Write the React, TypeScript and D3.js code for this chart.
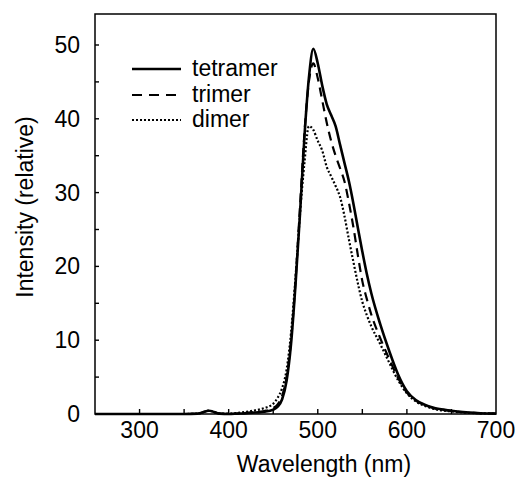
import { useEffect, useRef } from 'react';
import * as d3 from 'd3';

// wavelength grid (nm) and the three emission spectra
const wavelengths = [250, 300, 350, 365, 378, 390, 400, 410, 420, 430, 440, 450, 455, 460, 465, 470, 475, 480, 485, 490, 495, 500, 505, 510, 515, 520, 525, 530, 535, 540, 545, 550, 555, 560, 570, 580, 590, 600, 610, 620, 630, 650, 670, 700];
const tetramer = [0, 0, 0, 0.05, 0.45, 0.05, 0, 0.05, 0.1, 0.2, 0.3, 0.6, 1.0, 2.0, 4.5, 9.5, 17.5, 27, 37.5, 45.5, 49.5, 47.5, 44.5, 42, 40.5, 39, 36.5, 34, 31.5, 28.5, 25.2, 22, 19, 16.4, 12.2, 8.6, 5.4, 3.1, 1.9, 1.25, 0.85, 0.45, 0.2, 0.05];
const trimer = [0, 0, 0, 0.05, 0.45, 0.05, 0, 0.05, 0.15, 0.25, 0.4, 0.8, 1.3, 2.5, 5, 10, 18, 28, 38, 45, 47.5, 45.5, 42.5, 39.5, 37, 35, 33.3, 31.5, 28.6, 25.3, 21.5, 18, 15.6, 13.5, 10.3, 7.5, 4.9, 2.9, 1.8, 1.2, 0.8, 0.4, 0.18, 0.05];
const dimer = [0, 0, 0, 0.05, 0.45, 0.05, 0.05, 0.15, 0.3, 0.5, 0.8, 1.4, 2.2, 3.5, 6, 11, 18.5, 27, 34, 39, 38.5, 37, 35.7, 33.5, 32.2, 30.9, 29.4, 26.8, 23.6, 20.6, 17.7, 15.2, 13.4, 11.9, 9.5, 7.0, 4.6, 2.8, 1.7, 1.1, 0.7, 0.35, 0.15, 0.05];

const seriesNames = ['tetramer', 'trimer', 'dimer'];
const xLabels = [300, 400, 500, 600, 700];
const yLabels = [0, 10, 20, 30, 40, 50];

const font = "'Liberation Sans', Arial, Helvetica, sans-serif";
const dashes: Record<string, string | null> = { tetramer: null, trimer: '9,6', dimer: '2,2' };
const widths: Record<string, number> = { tetramer: 2.6, trimer: 2.2, dimer: 2.2 };

export default function App() {
  const svgRef = useRef<SVGSVGElement>(null);

  useEffect(() => {
    if (!svgRef.current) return;
    const svg = d3.select(svgRef.current);
    svg.selectAll('*').remove();

    const W = 518, H = 481;
    const left = 95, right = 496, top = 14, bottom = 414;
    svg.attr('width', W).attr('height', H);

    const x = d3.scaleLinear().domain([250, 700]).range([left, right]);
    const y = d3.scaleLinear().domain([0, 54.2]).range([bottom, top]);

    const series: Record<string, number[]> = { tetramer, trimer, dimer };

    // curves
    const line = d3.line<number>()
      .x((_, i) => x(wavelengths[i]))
      .y(d => y(d))
      .curve(d3.curveMonotoneX);

    const g = svg.append('g');
    seriesNames.slice().reverse().forEach(name => {
      g.append('path').datum(series[name])
        .attr('fill', 'none').attr('stroke', '#000')
        .attr('stroke-width', widths[name])
        .attr('stroke-dasharray', dashes[name])
        .attr('stroke-linejoin', 'round')
        .attr('d', line);
    });

    // frame
    svg.append('rect').attr('x', left).attr('y', top)
      .attr('width', right - left).attr('height', bottom - top)
      .attr('fill', 'none').attr('stroke', '#000').attr('stroke-width', 1.5);

    // inward ticks
    const xTicks = d3.range(250, 701, 50);
    svg.append('g').selectAll('line').data(xTicks.slice(1, -1)).join('line')
      .attr('x1', d => x(d)).attr('x2', d => x(d))
      .attr('y1', bottom).attr('y2', bottom - 5)
      .attr('stroke', '#000').attr('stroke-width', 1.4);

    const yTicks = d3.range(5, 54, 5);
    svg.append('g').selectAll('line').data(yTicks).join('line')
      .attr('x1', left).attr('x2', left + 4)
      .attr('y1', d => y(d)).attr('y2', d => y(d))
      .attr('stroke', '#000').attr('stroke-width', 1.4);

    // tick labels
    svg.append('g').selectAll('text').data(xLabels).join('text')
      .attr('x', d => x(d)).attr('y', bottom + 24)
      .attr('text-anchor', 'middle').attr('font-family', font).attr('font-size', 23)
      .text(d => d);

    svg.append('g').selectAll('text').data(yLabels).join('text')
      .attr('x', left - 15).attr('y', d => y(d) + 8)
      .attr('text-anchor', 'end').attr('font-family', font).attr('font-size', 23)
      .text(d => d);

    // axis titles
    svg.append('text').attr('x', 324).attr('y', 472)
      .attr('text-anchor', 'middle').attr('font-family', font).attr('font-size', 23)
      .text('Wavelength (nm)');

    svg.append('text').attr('transform', 'rotate(-90)').attr('x', -207).attr('y', 33)
      .attr('text-anchor', 'middle').attr('font-family', font).attr('font-size', 23)
      .text('Intensity (relative)');

    // legend
    const legendY = [69, 95, 120];
    const lg = svg.append('g');
    seriesNames.forEach((name, i) => {
      lg.append('line').attr('x1', 132).attr('x2', 181)
        .attr('y1', legendY[i]).attr('y2', legendY[i])
        .attr('stroke', '#000').attr('stroke-width', name === 'tetramer' ? 2.4 : 2)
        .attr('stroke-dasharray', name === 'trimer' ? '10,7' : dashes[name]);
      lg.append('text').attr('x', 192).attr('y', legendY[i] + 7)
        .attr('font-family', font).attr('font-size', 23)
        .text(name);
    });
  }, []);

  return (
    <div style={{ position: 'absolute', left: 0, top: 0, background: '#fff' }}>
      <svg ref={svgRef} style={{ display: 'block' }} />
    </div>
  );
}
